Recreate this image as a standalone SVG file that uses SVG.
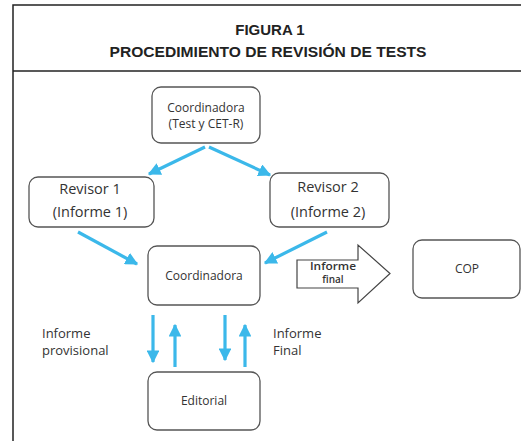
<svg xmlns="http://www.w3.org/2000/svg" width="521" height="441" viewBox="0 0 521 441">
<defs>
<style>
.frame{fill:none;stroke:#222;stroke-width:1.5}
.box{fill:#fff;stroke:#555;stroke-width:1.3}
.t{font-family:"Open Sans","Liberation Sans",sans-serif;fill:#333;text-anchor:middle}
.lbl{font-family:"Open Sans","Liberation Sans",sans-serif;fill:#333}
.title{font-family:"Liberation Sans",Arial,sans-serif;font-weight:bold;fill:#222;text-anchor:middle;font-size:15px}
.con{stroke:#3bb8ea;stroke-width:3.2;fill:none}
</style>
<marker id="ah" viewBox="0 0 10 10" refX="9" refY="5" markerWidth="4" markerHeight="4" markerUnits="strokeWidth" orient="auto">
<path d="M0,0 L10,5 L0,10 z" fill="#3bb8ea"/>
</marker>
</defs>
<rect width="521" height="441" fill="#fff"/>
<g id="frame">
<path class="frame" d="M522,5 H13 V442"/>
<path class="frame" d="M13,71 H522"/>
<text class="title" x="270" y="35">FIGURA 1</text>
<text class="title" x="268" y="57" textLength="317" lengthAdjust="spacingAndGlyphs">PROCEDIMIENTO DE REVISIÓN DE TESTS</text>
</g>
<g id="coord-top">
<rect class="box" x="152" y="87" width="108" height="56" rx="9"/>
<text class="t" x="206" y="112" font-size="12">Coordinadora</text>
<text class="t" x="206" y="128" font-size="12">(Test y CET-R)</text>
</g>
<g id="revisor1">
<rect class="box" x="29" y="177" width="125" height="50" rx="9"/>
<text class="t" x="90" y="194" font-size="14.5">Revisor 1</text>
<text class="t" x="90" y="217" font-size="14.5">(Informe 1)</text>
</g>
<g id="revisor2">
<rect class="box" x="270" y="173" width="119" height="54" rx="9"/>
<text class="t" x="328" y="192" font-size="14.5">Revisor 2</text>
<text class="t" x="328" y="217" font-size="14.5">(Informe 2)</text>
</g>
<g id="coord-mid">
<rect class="box" x="148" y="246" width="112" height="59" rx="9"/>
<text class="t" x="204" y="280" font-size="12">Coordinadora</text>
</g>
<g id="cop">
<rect class="box" x="413" y="240" width="107" height="58" rx="9"/>
<text class="t" x="467" y="273" font-size="12">COP</text>
</g>
<g id="editorial">
<rect class="box" x="148" y="372" width="112" height="58" rx="9"/>
<text class="t" x="204" y="405" font-size="12">Editorial</text>
</g>
<g id="informe-final-arrow">
<path d="M297,260 H358 V245 L390,273.5 L358,303 V288 H297 Z" fill="#fff" stroke="#444" stroke-width="1.2"/>
<text class="t" x="333" y="269.5" font-size="10" font-weight="600" textLength="46" lengthAdjust="spacingAndGlyphs">Informe</text>
<text class="t" x="333" y="283" font-size="10" font-weight="600">final</text>
</g>
<g id="labels">
<text class="lbl" x="42" y="338" font-size="13">Informe</text>
<text class="lbl" x="42" y="355" font-size="13">provisional</text>
<text class="lbl" x="273" y="338" font-size="13">Informe</text>
<text class="lbl" x="273" y="355" font-size="13">Final</text>
</g>
<g id="connectors">
<line class="con" x1="205" y1="147" x2="149" y2="174" marker-end="url(#ah)"/>
<line class="con" x1="209" y1="147" x2="270" y2="175" marker-end="url(#ah)"/>
<line class="con" x1="78" y1="232" x2="137" y2="264" marker-end="url(#ah)"/>
<line class="con" x1="327" y1="232" x2="265" y2="263" marker-end="url(#ah)"/>
<line class="con" x1="153" y1="315" x2="153" y2="362" marker-end="url(#ah)"/>
<line class="con" x1="175" y1="367" x2="175" y2="325" marker-end="url(#ah)"/>
<line class="con" x1="225" y1="315" x2="225" y2="360" marker-end="url(#ah)"/>
<line class="con" x1="245" y1="367" x2="245" y2="325" marker-end="url(#ah)"/>
</g>
</svg>
